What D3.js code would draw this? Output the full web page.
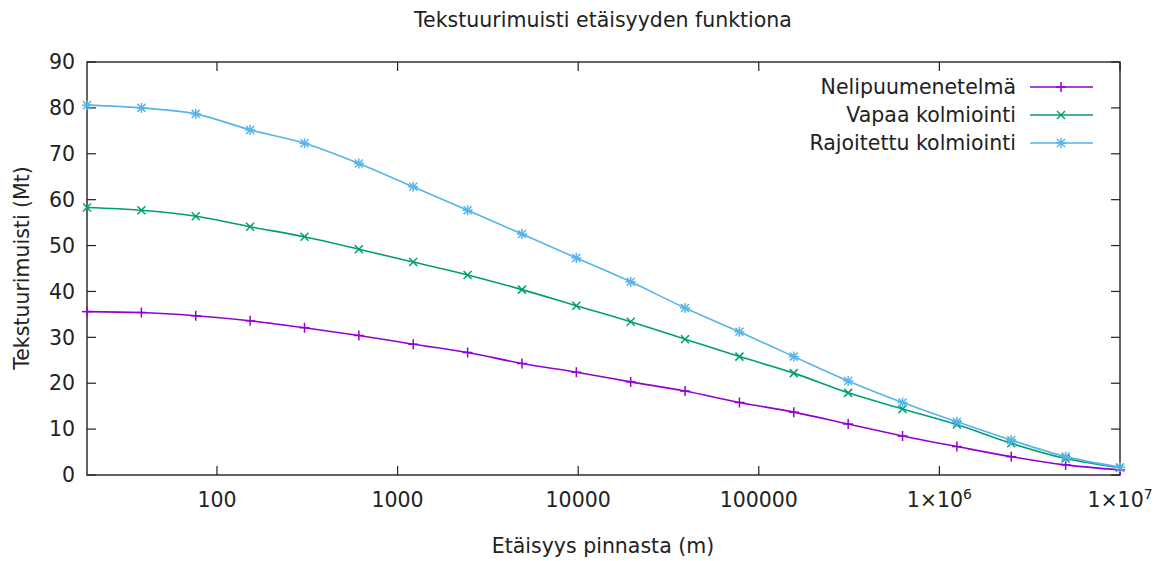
<!DOCTYPE HTML>
<html>
<head>
<meta charset="utf-8">
<title>Tekstuurimuisti</title>
<script src="https://d3js.org/d3.v7.min.js"></script>
<style>
  body { margin: 0; background: #fff; }
  svg text { font-family: "DejaVu Sans", sans-serif; fill: #222; }
</style>
</head>
<body>
<svg id="chart" width="1171" height="561"></svg>
<script>
// distances (m): 1e7 / 2^k
const distances = [19.07, 38.15, 76.29, 152.6, 305.2, 610.4, 1220.7, 2441.4, 4882.8, 9765.6,
  19531, 39063, 78125, 156250, 312500, 625000, 1250000, 2500000, 5000000, 10000000];
const nelipuu = [35.6, 35.4, 34.7, 33.6, 32.1, 30.4, 28.5, 26.7, 24.3, 22.4,
  20.3, 18.3, 15.8, 13.7, 11.1, 8.5, 6.2, 4.0, 2.2, 1.1];
const vapaa = [58.3, 57.7, 56.4, 54.1, 51.9, 49.2, 46.4, 43.6, 40.4, 36.9,
  33.4, 29.6, 25.8, 22.2, 17.9, 14.4, 11.0, 6.9, 3.6, 1.6];
const rajoitettu = [80.6, 80.0, 78.7, 75.2, 72.3, 67.9, 62.8, 57.7, 52.5, 47.3,
  42.1, 36.4, 31.2, 25.8, 20.5, 15.8, 11.6, 7.6, 4.0, 1.7];
const seriesNames = ["Nelipuumenetelmä", "Vapaa kolmiointi", "Rajoitettu kolmiointi"];
const yTicks = [0, 10, 20, 30, 40, 50, 60, 70, 80, 90];
const xTicks = [100, 1000, 10000, 100000, 1e6, 1e7];

const colors = ["#9400d3", "#009e73", "#56b4e9"];
const marks = ["plus", "cross", "star"];
const seriesValues = [nelipuu, vapaa, rajoitettu];

const svg = d3.select("#chart");
const m = { left: 87, right: 1120, top: 62, bottom: 475 };
const fs = 20.5;

const x = d3.scaleLog().domain([19.07, 1e7]).range([m.left, m.right]);
const y = d3.scaleLinear().domain([0, 90]).range([m.bottom, m.top]);

// ticks on all four sides
const tickLen = 9;
const axisG = svg.append("g").attr("stroke", "#222").attr("stroke-width", 1.2);
yTicks.forEach(t => {
  axisG.append("line").attr("x1", m.left).attr("x2", m.left + tickLen).attr("y1", y(t)).attr("y2", y(t));
  axisG.append("line").attr("x1", m.right).attr("x2", m.right - tickLen).attr("y1", y(t)).attr("y2", y(t));
  svg.append("text").attr("x", m.left - 12).attr("y", y(t)).attr("dy", "0.35em")
    .attr("text-anchor", "end").attr("font-size", fs).text(t);
});
xTicks.forEach(t => {
  axisG.append("line").attr("x1", x(t)).attr("x2", x(t)).attr("y1", m.bottom).attr("y2", m.bottom - tickLen);
  axisG.append("line").attr("x1", x(t)).attr("x2", x(t)).attr("y1", m.top).attr("y2", m.top + tickLen);
  const lbl = svg.append("text").attr("x", x(t)).attr("y", m.bottom + 32)
    .attr("text-anchor", "middle").attr("font-size", fs);
  const e = Math.round(Math.log10(t));
  if (e >= 6) {
    lbl.append("tspan").text("1×10");
    lbl.append("tspan").attr("dy", -8).attr("font-size", 14).text(e);
  } else {
    lbl.text(t);
  }
});

svg.append("rect").attr("x", m.left).attr("y", m.top)
  .attr("width", m.right - m.left).attr("height", m.bottom - m.top)
  .attr("fill", "none").attr("stroke", "#222").attr("stroke-width", 1.4);

// series
const line = d3.line().x(d => x(d[0])).y(d => y(d[1])).curve(d3.curveMonotoneX);

function drawMark(g, type, cx, cy, col) {
  const s = 5;
  const segs = [];
  if (type === "plus" || type === "star") segs.push([-s, 0, s, 0], [0, -s, 0, s]);
  if (type === "cross" || type === "star") segs.push([-s * 0.8, -s * 0.8, s * 0.8, s * 0.8], [-s * 0.8, s * 0.8, s * 0.8, -s * 0.8]);
  segs.forEach(p => g.append("line")
    .attr("x1", cx + p[0]).attr("y1", cy + p[1]).attr("x2", cx + p[2]).attr("y2", cy + p[3])
    .attr("stroke", col).attr("stroke-width", 1.5));
}

const plot = svg.append("g");
seriesValues.forEach((vals, i) => {
  const data = distances.map((d, j) => [d, vals[j]]);
  plot.append("path").datum(data).attr("d", line)
    .attr("fill", "none").attr("stroke", colors[i]).attr("stroke-width", 1.6);
  data.forEach(d => drawMark(plot, marks[i], x(d[0]), y(d[1]), colors[i]));
});

// legend
const legY = [87, 115, 143];
seriesNames.forEach((n, i) => {
  svg.append("text").attr("x", 1016).attr("y", legY[i]).attr("dy", "0.35em")
    .attr("text-anchor", "end").attr("font-size", fs).text(n);
  svg.append("line").attr("x1", 1030).attr("x2", 1093).attr("y1", legY[i]).attr("y2", legY[i])
    .attr("stroke", colors[i]).attr("stroke-width", 1.6);
  drawMark(svg, marks[i], 1061, legY[i], colors[i]);
});

// titles
svg.append("text").attr("x", 603).attr("y", 27).attr("text-anchor", "middle")
  .attr("font-size", fs).text("Tekstuurimuisti etäisyyden funktiona");
svg.append("text").attr("x", 603).attr("y", 553).attr("text-anchor", "middle")
  .attr("font-size", fs).text("Etäisyys pinnasta (m)");
svg.append("text").attr("transform", "translate(29,268) rotate(-90)")
  .attr("text-anchor", "middle").attr("font-size", fs).text("Tekstuurimuisti (Mt)");
</script>
</body>
</html>
